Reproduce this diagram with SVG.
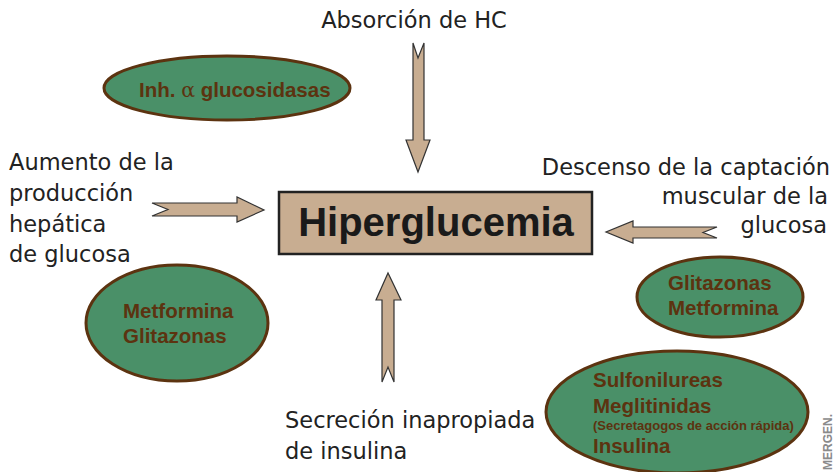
<svg xmlns="http://www.w3.org/2000/svg" width="838" height="472" viewBox="0 0 838 472">
<style>
.lbl{font-family:"DejaVu Sans","Liberation Sans",sans-serif;font-size:22.5px;fill:#222}
.oval{fill:#4a9068;stroke:#5c3310;stroke-width:3}
.ot{font-family:"Liberation Sans",Arial,sans-serif;font-weight:bold;font-size:20.5px;fill:#5c3310}
.arr{fill:#c8ad91;stroke:#333;stroke-width:1.2;stroke-linejoin:miter}
</style>
<rect width="838" height="472" fill="#fff"/>
<g id="connectors">
  <polygon class="arr" points="413,43 418,58 424,43 424,140 430,140 418,172 406,140 413,140"/>
  <polygon class="arr" points="382,382 388,367 394,382 394,300 401,300 388,273 376,300 382,300"/>
  <polygon class="arr" points="152,203 168,209.5 152,216 237,216 237,222 264,210 237,197 237,203"/>
  <polygon class="arr" points="717,227 703,232.5 717,238 633,238 633,243 606,232 633,221 633,227"/>
</g>
<g id="hiperglucemia">
  <rect x="279" y="192" width="313" height="62" fill="#c8ad91" stroke="#222" stroke-width="2.5"/>
  <text x="436" y="236" text-anchor="middle" style="font-family:'Liberation Sans',Arial,sans-serif;font-weight:bold;font-size:40px;fill:#1a1a1a">Hiperglucemia</text>
</g>
<g id="absorcion">
  <text class="lbl" x="414" y="28" text-anchor="middle">Absorción de HC</text>
</g>
<g id="aumento">
  <text class="lbl" x="9" y="170">Aumento de la</text>
  <text class="lbl" x="9" y="201">producción</text>
  <text class="lbl" x="9" y="232">hepática</text>
  <text class="lbl" x="9" y="262">de glucosa</text>
</g>
<g id="descenso">
  <text class="lbl" x="830" y="175" text-anchor="end">Descenso de la captación</text>
  <text class="lbl" x="828" y="204" text-anchor="end">muscular de la</text>
  <text class="lbl" x="827" y="233" text-anchor="end">glucosa</text>
</g>
<g id="secrecion">
  <text class="lbl" x="285" y="428">Secreción inapropiada</text>
  <text class="lbl" x="285" y="459">de insulina</text>
</g>
<g id="inh">
  <ellipse class="oval" cx="227" cy="88" rx="123" ry="32"/>
  <text class="ot" x="139" y="97">Inh. <tspan style="font-family:'DejaVu Serif',serif;font-weight:normal">α</tspan> glucosidasas</text>
</g>
<g id="metformina-glitazonas">
  <ellipse class="oval" cx="177" cy="323" rx="91" ry="58"/>
  <text class="ot" x="123" y="318">Metformina</text>
  <text class="ot" x="123" y="343">Glitazonas</text>
</g>
<g id="glitazonas-metformina">
  <ellipse class="oval" cx="720" cy="297" rx="83" ry="40"/>
  <text class="ot" x="668" y="290">Glitazonas</text>
  <text class="ot" x="668" y="315">Metformina</text>
</g>
<g id="secretagogos">
  <ellipse class="oval" cx="677" cy="412" rx="131" ry="61"/>
  <text class="ot" x="593" y="387">Sulfonilureas</text>
  <text class="ot" x="593" y="413">Meglitinidas</text>
  <text class="ot" x="593" y="430" style="font-size:13px">(Secretagogos de acción rápida)</text>
  <text class="ot" x="593" y="453">Insulina</text>
</g>
<text x="832" y="470" transform="rotate(-90 832 470)" style="font-family:'Liberation Sans',Arial,sans-serif;font-weight:bold;font-size:12px;fill:#8a8a8a">MERGEN.</text>
</svg>
